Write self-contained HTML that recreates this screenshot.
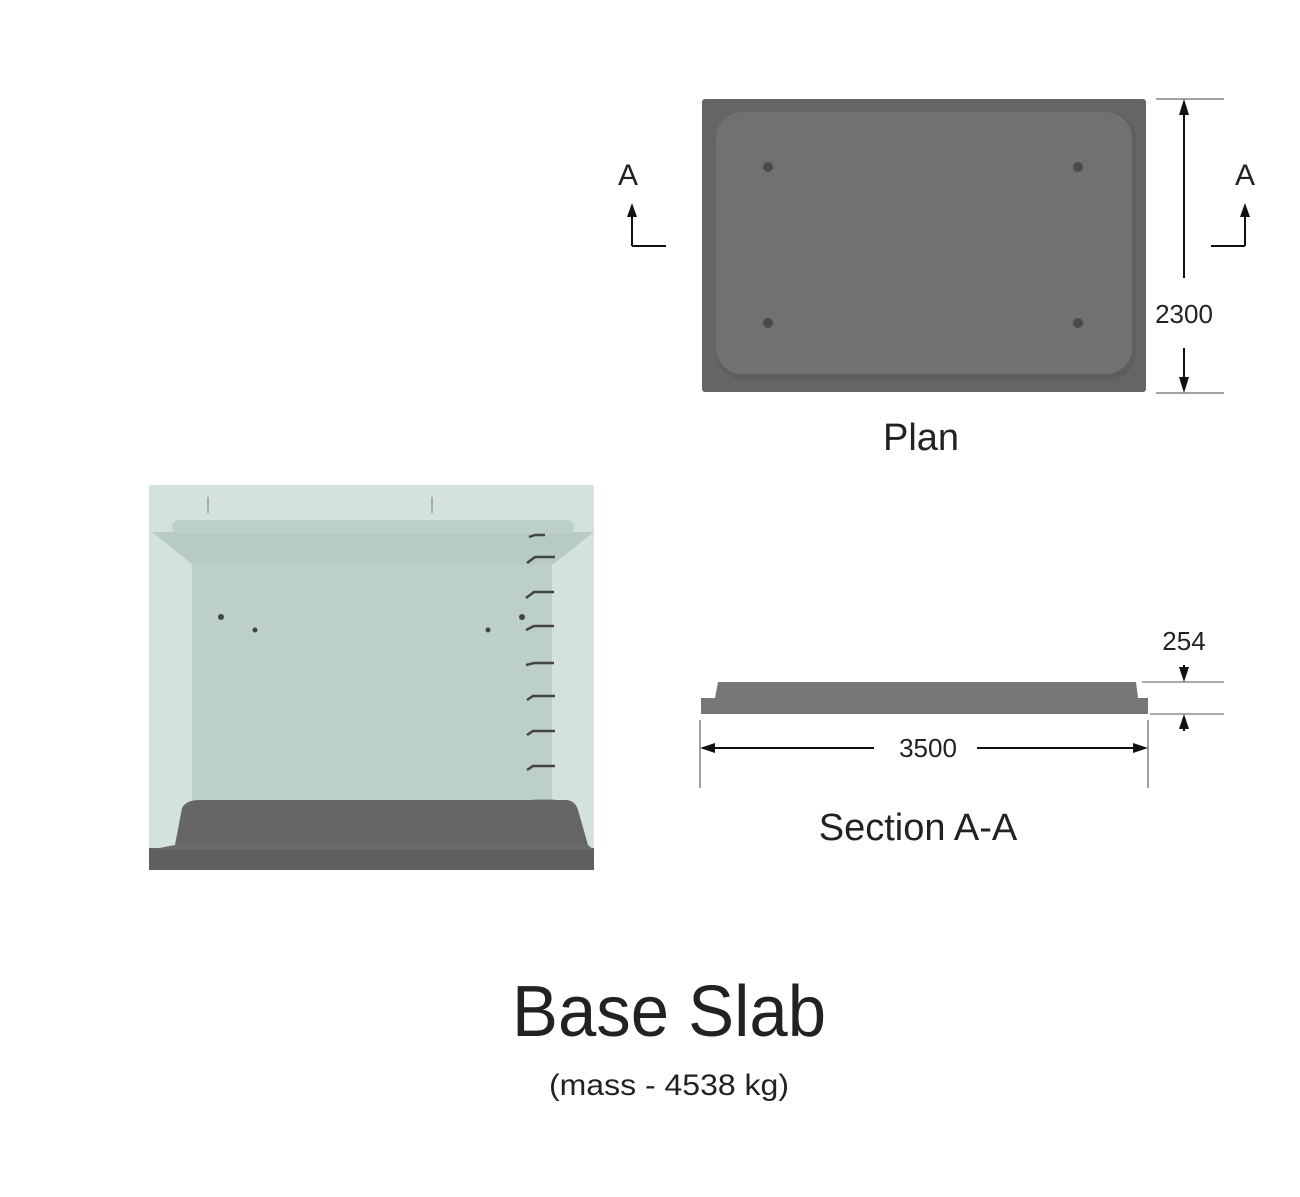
<!DOCTYPE html>
<html><head><style>
body{margin:0;background:#fff;}
svg text{font-family:"Liberation Sans",sans-serif;fill:#222;}
</style></head><body>
<svg width="1300" height="1192" viewBox="0 0 1300 1192" xmlns="http://www.w3.org/2000/svg">
<!-- Plan -->
<rect x="702" y="99" width="444" height="293" rx="3" fill="#656565"/>
<rect x="716" y="112" width="420" height="268" rx="28" fill="#5e5e5e"/>
<rect x="716" y="112" width="416" height="262" rx="26" fill="#717171"/>
<g fill="#4a4a4a"><circle cx="768" cy="167" r="5"/><circle cx="1078" cy="167" r="5"/><circle cx="768" cy="323" r="5"/><circle cx="1078" cy="323" r="5"/></g>
<line x1="1156" y1="99" x2="1224" y2="99" stroke="#444"/>
<line x1="1156" y1="393" x2="1224" y2="393" stroke="#444"/>
<line x1="1184" y1="278" x2="1184" y2="112" stroke="#111" stroke-width="2"/>
<path d="M1184,99 l-5,16 h10z" fill="#111"/>
<line x1="1184" y1="348" x2="1184" y2="380" stroke="#111" stroke-width="2"/>
<path d="M1184,393 l-5,-16 h10z" fill="#111"/>
<text x="1184" y="323" font-size="26" text-anchor="middle">2300</text>
<text x="628" y="185" font-size="30" text-anchor="middle">A</text>
<path d="M632,246 L632,212 M632,246 L666,246" stroke="#111" stroke-width="2" fill="none"/>
<path d="M632,203 l-5,14 h10z" fill="#111"/>
<text x="1245" y="185" font-size="30" text-anchor="middle">A</text>
<path d="M1245,246 L1245,212 M1245,246 L1211,246" stroke="#111" stroke-width="2" fill="none"/>
<path d="M1245,203 l-5,14 h10z" fill="#111"/>
<text x="921" y="450" font-size="38" text-anchor="middle">Plan</text>
<!-- Section -->
<path d="M701,714 L701,698 L715,698 L718,682 L1136,682 L1138,698 L1148,698 L1148,714z" fill="#777"/>
<line x1="1142" y1="682" x2="1224" y2="682" stroke="#555"/>
<line x1="1150" y1="714" x2="1224" y2="714" stroke="#555"/>
<line x1="1184" y1="665" x2="1184" y2="672" stroke="#111" stroke-width="2"/>
<path d="M1184,682 l-5,-15 h10z" fill="#111"/>
<line x1="1184" y1="724" x2="1184" y2="731" stroke="#111" stroke-width="2"/>
<path d="M1184,714 l-5,15 h10z" fill="#111"/>
<text x="1184" y="650" font-size="26" text-anchor="middle">254</text>
<line x1="700" y1="720" x2="700" y2="788" stroke="#444"/>
<line x1="1148" y1="720" x2="1148" y2="788" stroke="#444"/>
<line x1="874" y1="748" x2="712" y2="748" stroke="#111" stroke-width="2"/>
<path d="M700,748 l15,-5 v10z" fill="#111"/>
<line x1="977" y1="748" x2="1136" y2="748" stroke="#111" stroke-width="2"/>
<path d="M1148,748 l-15,-5 v10z" fill="#111"/>
<text x="928" y="757" font-size="26" text-anchor="middle">3500</text>
<text x="918" y="840" font-size="38" text-anchor="middle">Section A-A</text>
<!-- 3D view -->
<rect x="149" y="485" width="445" height="385" fill="#d3e2dc"/>
<rect x="192" y="535" width="360" height="290" fill="#bccfc8"/>
<path d="M152,532 L594,532 L552,565 L193,565z" fill="#b7cbc3"/>
<rect x="172" y="520" width="402" height="14" rx="7" fill="#bccfc8"/>
<g stroke="#aab" stroke-width="2"><line x1="208" y1="497" x2="208" y2="513"/><line x1="432" y1="497" x2="432" y2="513"/></g>
<g fill="#444"><circle cx="221" cy="617" r="3"/><circle cx="255" cy="630" r="2.5"/><circle cx="488" cy="630" r="2.5"/><circle cx="522" cy="617" r="3"/></g>
<g stroke="#444" stroke-width="2.5" fill="none">
<path d="M529,537 l6,-2 h10"/><path d="M527,563 l8,-6 h20"/><path d="M526,598 l8,-6 h20"/><path d="M526,630 l8,-4 h20"/><path d="M526,665 l8,-2 h20"/><path d="M527,700 l6,-4 h22"/><path d="M527,735 l6,-4 h22"/><path d="M527,770 l6,-4 h22"/><path d="M527,805 l6,-4 h22"/>
</g>
<path d="M175,845 L182,808 Q186,800 200,800 L565,800 Q575,800 578,810 L588,845z" fill="#666"/>
<rect x="149" y="848" width="445" height="22" fill="#5f5f5f"/>
<path d="M175,845 L588,845 L594,850 L149,850z" fill="#6a6a6a"/>
<text x="669" y="1036" font-size="72" text-anchor="middle" textLength="314" lengthAdjust="spacingAndGlyphs">Base Slab</text>
<text x="669" y="1095" font-size="30" text-anchor="middle" textLength="240" lengthAdjust="spacingAndGlyphs">(mass - 4538 kg)</text>
</svg>
</body></html>
